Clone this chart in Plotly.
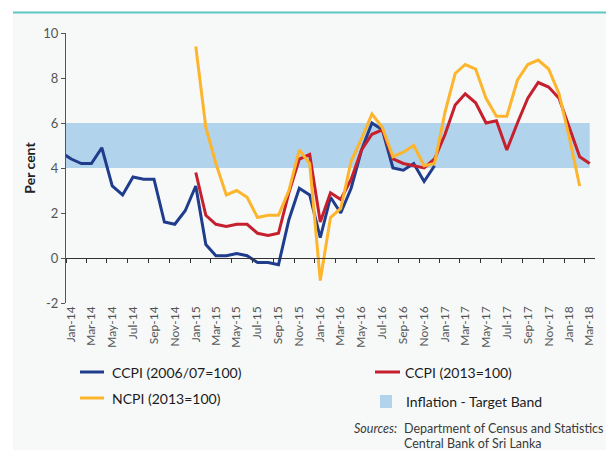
import pandas as pd
import plotly.graph_objects as go

# ---------------- data ----------------
# Monthly observations, Dec-2013 .. Mar-2018 (year-on-year %, per cent)
months = [
    "2013-12",
    "2014-01", "2014-02", "2014-03", "2014-04", "2014-05", "2014-06",
    "2014-07", "2014-08", "2014-09", "2014-10", "2014-11", "2014-12",
    "2015-01", "2015-02", "2015-03", "2015-04", "2015-05", "2015-06",
    "2015-07", "2015-08", "2015-09", "2015-10", "2015-11", "2015-12",
    "2016-01", "2016-02", "2016-03", "2016-04", "2016-05", "2016-06",
    "2016-07", "2016-08", "2016-09", "2016-10", "2016-11", "2016-12",
    "2017-01", "2017-02", "2017-03", "2017-04", "2017-05", "2017-06",
    "2017-07", "2017-08", "2017-09", "2017-10", "2017-11", "2017-12",
    "2018-01", "2018-02", "2018-03",
]

ccpi_2006 = [
    4.7,
    4.4, 4.2, 4.2, 4.9, 3.2, 2.8, 3.6, 3.5, 3.5, 1.6, 1.5, 2.1,
    3.2, 0.6, 0.1, 0.1, 0.2, 0.1, -0.2, -0.2, -0.3, 1.7, 3.1, 2.8,
    0.9, 2.7, 2.0, 3.1, 4.8, 6.0, 5.7, 4.0, 3.9, 4.2, 3.4, 4.1,
    None, None, None, None, None, None, None, None, None, None, None, None,
    None, None, None,
]

ccpi_2013 = [
    None,
    None, None, None, None, None, None, None, None, None, None, None, None,
    3.8, 1.9, 1.5, 1.4, 1.5, 1.5, 1.1, 1.0, 1.1, 2.9, 4.4, 4.6,
    1.6, 2.9, 2.6, 3.5, 4.8, 5.5, 5.7, 4.4, 4.2, 4.1, 4.0, 4.4,
    5.5, 6.8, 7.3, 6.9, 6.0, 6.1, 4.8, 6.0, 7.1, 7.8, 7.6, 7.1,
    5.8, 4.5, 4.2,
]

ncpi_2013 = [
    None,
    None, None, None, None, None, None, None, None, None, None, None, None,
    9.4, 5.8, 4.2, 2.8, 3.0, 2.7, 1.8, 1.9, 1.9, 3.0, 4.8, 4.2,
    -1.0, 1.8, 2.2, 4.3, 5.3, 6.4, 5.8, 4.5, 4.7, 5.0, 4.1, 4.2,
    6.5, 8.2, 8.6, 8.4, 7.1, 6.3, 6.3, 7.9, 8.6, 8.8, 8.4, 7.3,
    5.3, 3.2, None,
]

target_low = 4
target_high = 6
band_low = [target_low for _ in months]
band_high = [target_high for _ in months]

tick_dates = [
    "2014-01-01", "2014-03-01", "2014-05-01", "2014-07-01", "2014-09-01", "2014-11-01",
    "2015-01-01", "2015-03-01", "2015-05-01", "2015-07-01", "2015-09-01", "2015-11-01",
    "2016-01-01", "2016-03-01", "2016-05-01", "2016-07-01", "2016-09-01", "2016-11-01",
    "2017-01-01", "2017-03-01", "2017-05-01", "2017-07-01", "2017-09-01", "2017-11-01",
    "2018-01-01", "2018-03-01",
]
tick_labels = [
    "Jan-14", "Mar-14", "May-14", "Jul-14", "Sep-14", "Nov-14",
    "Jan-15", "Mar-15", "May-15", "Jul-15", "Sep-15", "Nov-15",
    "Jan-16", "Mar-16", "May-16", "Jul-16", "Sep-16", "Nov-16",
    "Jan-17", "Mar-17", "May-17", "Jul-17", "Sep-17", "Nov-17",
    "Jan-18", "Mar-18",
]

y_tick_vals = [-2, 0, 2, 4, 6, 8, 10]
y_tick_labels = ["-2", "0", "2", "4", "6", "8", "10"]

series_names = ["CCPI (2006/07=100)", "CCPI (2013=100)", "NCPI (2013=100)"]
band_name = "Inflation - Target Band"

# ---------------- style ----------------
W, H = 606, 450
L, R, T, B = 66, 595, 33, 303
FONT = "Lato"
BLUE = "#1f3d8c"
RED = "#c6202e"
YELLOW = "#fcb52c"
BAND = "#b2d3ec"
BG = "#f7f9f9"
TEAL = "#5cc6c2"
x_range = ["2014-01-01", "2018-04-01"]

# month labels sit at the middle of their month, tick marks at month start
label_positions = [
    (pd.Timestamp(d) + pd.Timedelta(days=15)).strftime("%Y-%m-%d")
    for d in tick_dates
]


def px(xp):
    return (xp - L) / (R - L)


def py(yp):
    return (B - yp) / (B - T)


fig = go.Figure()

# target band (on main x axis, drawn under the lines)
fig.add_trace(go.Scatter(
    x=months, y=band_low, xperiod="M1", xperiodalignment="middle",
    mode="lines", line=dict(width=0, color=BAND), hoverinfo="skip",
    showlegend=False, xaxis="x", yaxis="y"))
fig.add_trace(go.Scatter(
    x=months, y=band_high, xperiod="M1", xperiodalignment="middle",
    mode="lines", line=dict(width=0, color=BAND), fill="tonexty",
    fillcolor=BAND, name=band_name, showlegend=False,
    xaxis="x", yaxis="y"))

# series lines (on overlay x axis that sits at y = 0)
for vals, color, name in zip([ccpi_2006, ccpi_2013, ncpi_2013],
                             [BLUE, RED, YELLOW], series_names):
    fig.add_trace(go.Scatter(
        x=months, y=vals, xperiod="M1", xperiodalignment="middle",
        mode="lines", line=dict(color=color, width=3),
        name=name, showlegend=False, connectgaps=False,
        xaxis="x2", yaxis="y"))

shapes = [
    # light background panel + teal top rule
    dict(type="rect", xref="paper", yref="paper", x0=px(13), x1=px(W + 5),
         y0=py(H + 5), y1=py(13.5), fillcolor=BG, line=dict(width=0),
         layer="below"),
    dict(type="line", xref="paper", yref="paper", x0=px(13), x1=px(W + 5),
         y0=py(12.5), y1=py(12.5), line=dict(color=TEAL, width=2)),
    # legend keys
    dict(type="line", xref="paper", yref="paper", x0=px(80), x1=px(104),
         y0=py(372), y1=py(372), line=dict(color=BLUE, width=3)),
    dict(type="line", xref="paper", yref="paper", x0=px(375), x1=px(400),
         y0=py(372), y1=py(372), line=dict(color=RED, width=3)),
    dict(type="line", xref="paper", yref="paper", x0=px(80), x1=px(104),
         y0=py(398), y1=py(398), line=dict(color=YELLOW, width=3)),
    dict(type="rect", xref="paper", yref="paper", x0=px(380), x1=px(392),
         y0=py(408), y1=py(395), fillcolor=BAND, line=dict(width=0)),
]

legend_font = dict(family=FONT, size=14, color="#1b1b1b")
src_font = dict(family=FONT, size=12.5, color="#3a3a3a")
annotations = [
    dict(text=series_names[0], x=px(110), y=py(372), xref="paper", yref="paper",
         xanchor="left", yanchor="middle", showarrow=False, font=legend_font),
    dict(text=series_names[1], x=px(403), y=py(372), xref="paper", yref="paper",
         xanchor="left", yanchor="middle", showarrow=False, font=legend_font),
    dict(text=series_names[2], x=px(110), y=py(398), xref="paper", yref="paper",
         xanchor="left", yanchor="middle", showarrow=False, font=legend_font),
    dict(text=band_name, x=px(404), y=py(401), xref="paper", yref="paper",
         xanchor="left", yanchor="middle", showarrow=False, font=legend_font),
    dict(text="<i>Sources:</i>", x=px(399), y=py(428), xref="paper", yref="paper",
         xanchor="right", yanchor="middle", showarrow=False, font=src_font),
    dict(text="Department of Census and Statistics", x=px(402), y=py(428),
         xref="paper", yref="paper", xanchor="left", yanchor="middle",
         showarrow=False, font=src_font),
    dict(text="Central Bank of Sri Lanka", x=px(402), y=py(443),
         xref="paper", yref="paper", xanchor="left", yanchor="middle",
         showarrow=False, font=src_font),
]

fig.update_layout(
    width=W, height=H,
    margin=dict(l=L, r=W - R, t=T, b=H - B, pad=0),
    paper_bgcolor="white", plot_bgcolor=BG,
    showlegend=False,
    font=dict(family=FONT, color="#555555"),
    xaxis=dict(
        type="date", range=x_range, tickvals=label_positions,
        ticktext=tick_labels,
        tickangle=-90, ticks="", showgrid=False, zeroline=False, showline=False,
        tickfont=dict(family=FONT, size=12, color="#555555"),
    ),
    xaxis2=dict(
        type="date", range=x_range, overlaying="x", anchor="free",
        position=(0 - (-2)) / (10 - (-2)), side="bottom",
        tickvals=tick_dates, showticklabels=False, ticks="outside", ticklen=4,
        tickcolor="#333333", showline=True, linecolor="#333333", linewidth=1,
        showgrid=False, zeroline=False,
    ),
    yaxis=dict(
        range=[-2, 10], tickvals=y_tick_vals, ticktext=y_tick_labels,
        ticks="outside",
        ticklen=4, tickcolor="#555555", showline=True, linecolor="#555555",
        linewidth=1, showgrid=False, zeroline=False,
        tickfont=dict(family=FONT, size=13, color="#555555"),
        title=dict(text="<b>Per cent</b>", standoff=4,
                   font=dict(family=FONT, size=14, color="#222222")),
    ),
    shapes=shapes,
    annotations=annotations,
)

fig.write_html(
    "out.html",
    config={"displayModeBar": False},
    post_script="document.body.style.margin='0';document.body.style.overflow='hidden';",
)
